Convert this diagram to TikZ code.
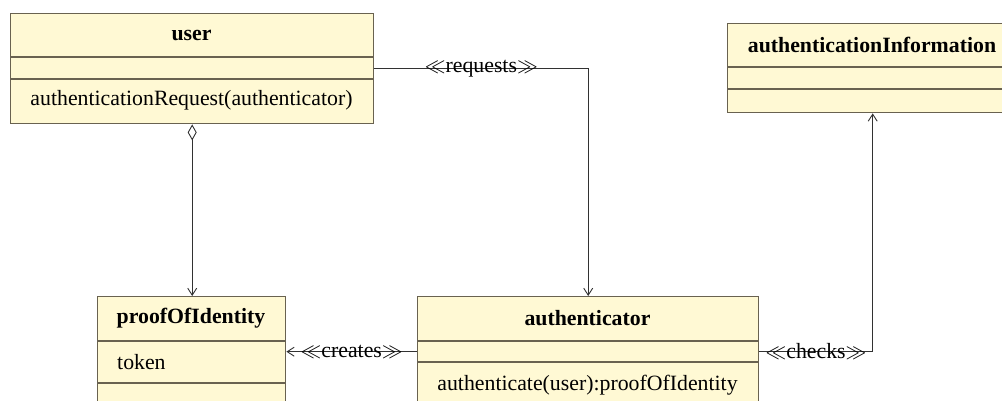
\documentclass[tikz,border=0pt]{standalone}
\usepackage{fontspec}
\setmainfont{Liberation Serif}
\newfontfamily\umlfont{Liberation Serif}
\usetikzlibrary{arrows.meta}
\definecolor{classfill}{RGB}{255,249,212}
\definecolor{classline}{RGB}{105,98,80}
\definecolor{wire}{RGB}{50,50,50}
\newcommand\umlsize{\fontsize{21.8}{26}\selectfont}
\tikzset{
  classbox/.style={draw=classline, fill=classfill, line width=1.4pt, inner sep=0pt, anchor=north west},
  divider/.style={draw=classline, line width=1.4pt},
  ctitle/.style={font=\umlfont\umlsize\bfseries, inner sep=0pt},
  member/.style={font=\umlfont\umlsize, inner sep=0pt},
  wire/.style={draw=wire, line width=1.1pt},
  navig/.style={wire, -{Straight Barb[length=7pt,width=9pt,line width=0.9pt]}},
  aggreg/.style={wire, {Diamond[open,length=16pt,width=9pt,line width=0.9pt]}-{Straight Barb[length=7pt,width=9pt,line width=0.9pt]}},
  stereo/.style={font=\umlfont\umlsize, inner sep=0pt}
}
\begin{document}
\begin{tikzpicture}[x=1pt,y=-1pt]
\useasboundingbox (0,0) rectangle (1002,401);
\clip (0,0) rectangle (1002,401);

% class boxes
\node[classbox, minimum width=363pt, minimum height=110pt] (user) at (10,13) {};
\node[classbox, minimum width=290pt, minimum height=89pt] (info) at (727,23) {};
\node[classbox, minimum width=188pt, minimum height=110pt] (proof) at (97,296) {};
\node[classbox, minimum width=341pt, minimum height=110pt] (auth) at (417,296) {};

% compartment dividers
\draw[divider] (10,57) -- (373,57);
\draw[divider] (10,79) -- (373,79);
\draw[divider] (727,67) -- (1017,67);
\draw[divider] (727,89) -- (1017,89);
\draw[divider] (97,341) -- (285,341);
\draw[divider] (97,383) -- (285,383);
\draw[divider] (417,341) -- (758,341);
\draw[divider] (417,362) -- (758,362);

% class texts
\node[ctitle] (userT) at (191.5,35) {user};
\node[member] (userM) at (191.5,100) {authenticationRequest(authenticator)};
\node[ctitle] (infoT) at (872,45) {authenticationInformation};
\node[ctitle] (proofT) at (191,318) {proofOfIdentity};
\node[member, anchor=west] (proofA) at (117,362) {token};
\node[ctitle] (authT) at (587.5,318) {authenticator};
\node[member] (authM) at (587.5,385) {authenticate(user):proofOfIdentity};

% relations
\draw[aggreg] (user.south) -- (user.south |- proof.north);
\draw[navig] (user.east) -| (auth.north)
  node[stereo, pos=0.25] {$\ll$requests$\gg$};
\draw[navig] (auth.west) -- (proof.east)
  node[stereo, midway] {$\ll$creates$\gg$};
\draw[navig] (auth.east) -| (info.south)
  node[stereo, pos=0.25] {$\ll$checks$\gg$};
\end{tikzpicture}
\end{document}
